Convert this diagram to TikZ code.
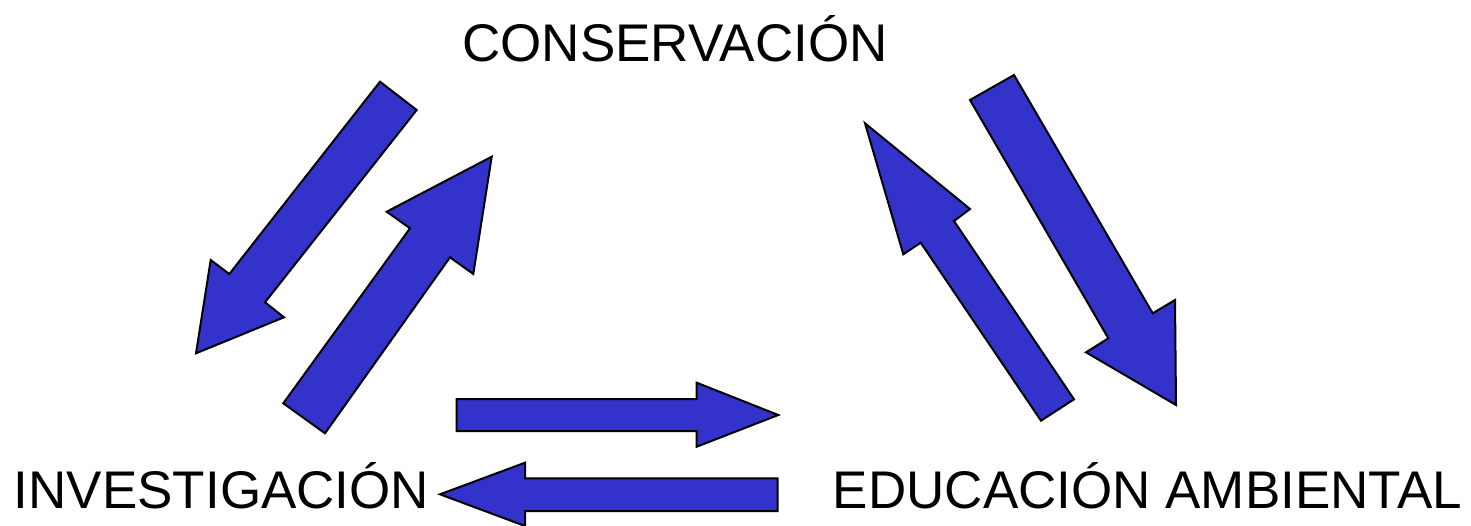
\documentclass[tikz,border=0pt]{standalone}
\usepackage{fontspec}
\setmainfont{Liberation Sans}
\definecolor{arrowblue}{RGB}{51,51,204}
\begin{document}
\begin{tikzpicture}[x=1pt,y=-1pt,
  blockarrow/.style={fill=arrowblue,draw=black,line width=2pt,line join=miter},
  label/.style={inner sep=0pt,anchor=base,font=\fontsize{53}{60}\selectfont}]
\useasboundingbox (0,0) rectangle (1471,525);
% labels
\node[label] (cons) at (675,61) {CONSERVACIÓN};
\node[label] (inv) at (221.5,508) {INVESTIGACIÓN};
\node[label] (edu) at (1147.5,508) {EDUCACIÓN AMBIENTAL};
% conservacion -> investigacion
\draw[blockarrow] (380,81.7) -- (229.3,274) -- (210.7,260) -- (196,353.3) -- (284,317.3) -- (265,302.3) -- (416.7,110) -- cycle;
% investigacion -> conservacion
\draw[blockarrow] (283.3,403.3) -- (410,228.3) -- (386.7,211.7) -- (491.7,156.7) -- (473.3,274) -- (450,257.3) -- (325,433.3) -- cycle;
% educacion -> conservacion
\draw[blockarrow] (1041,420.7) -- (920.7,242.7) -- (903.3,254.3) -- (865,123.3) -- (970,209) -- (954,221) -- (1074,399.3) -- cycle;
% conservacion -> educacion
\draw[blockarrow] (970,100) -- (1108.3,338.3) -- (1086,352.3) -- (1176,405) -- (1175,300) -- (1152.7,313.3) -- (1014,75) -- cycle;
% investigacion -> educacion
\draw[blockarrow] (456.7,399) -- (696.7,399) -- (696.7,382.7) -- (778.3,415) -- (696.7,446.7) -- (696.7,431) -- (456.7,431) -- cycle;
% educacion -> investigacion
\draw[blockarrow] (777.7,478.3) -- (525,478.3) -- (525,462.7) -- (440,494.3) -- (525,526) -- (525,511) -- (777.7,511) -- cycle;
\end{tikzpicture}
\end{document}
